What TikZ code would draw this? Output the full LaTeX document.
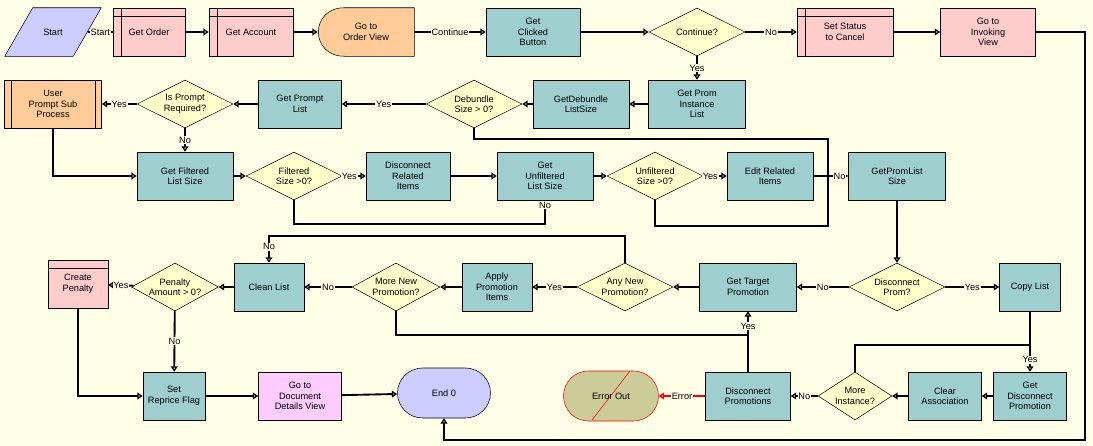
\documentclass[tikz,border=0pt]{standalone}
\usepackage{fontspec}
\setmainfont{Liberation Sans}
\usetikzlibrary{shapes.geometric,shapes.misc,arrows.meta}
\definecolor{bg}{HTML}{FFFFE8}
\definecolor{teal}{HTML}{9ECECE}
\definecolor{pk}{HTML}{FFCCCC}
\definecolor{yl}{HTML}{FFFFCC}
\definecolor{org}{HTML}{FFCC99}
\definecolor{lav}{HTML}{CCCCFF}
\definecolor{mag}{HTML}{FFCCFF}
\definecolor{err}{HTML}{CCCC99}
\begin{document}
\begin{tikzpicture}[x=0.75pt,y=-0.75pt,
  font=\fontsize{6.9}{7.9}\selectfont,
  every node/.style={align=center,inner sep=0pt},
  bx/.style 2 args={rectangle,draw,minimum width=#1*0.75pt,minimum height=#2*0.75pt},
  tb/.style={bx={#1}{48},fill=teal},
  sub/.style={bx={#1}{48},fill=pk,path picture={
     \draw ([xshift=6pt]path picture bounding box.north west)--([xshift=6pt]path picture bounding box.south west);
     \draw ([yshift=-6pt]path picture bounding box.north west)--([yshift=-6pt]path picture bounding box.north east);}},
  dm/.style={diamond,draw,fill=yl,aspect=2,minimum width=96*0.75pt,minimum height=48*0.75pt},
  ar/.style={draw,line width=1.4pt,-{Triangle[open,length=4pt,width=5pt,line width=1pt]}},
  ln/.style={draw,line width=1.4pt},
  lb/.style={fill=bg,inner sep=0.6pt,pos=0.5}]
\fill[bg] (0,0) rectangle (1093,446);
% row 1
\node[bx={96}{48},draw=none] (start) at (53,32) {};
\fill[lav,draw=black] (start.south west)--([xshift=21pt]start.north west)--(start.north east)--([xshift=-21pt]start.south east)--cycle;
\node at (53,32) {Start};
\node[sub=72] (go) at (149,32) {Get Order};
\node[sub=84] (ga) at (251,32) {Get Account};
\node[bx={96}{48},draw=none] (ov) at (366,32) {};
\fill[org,draw=black] ([xshift=20pt]ov.north west)--(ov.north east)--(ov.south east)--([xshift=20pt]ov.south west) .. controls ([xshift=-6pt]ov.south west) and ([xshift=-6pt]ov.north west) .. cycle;
\node at (366,32) {Go to\\Order View};
\node[tb=94] (gcb) at (533,32) {Get\\Clicked\\Button};
\node[dm] (cont) at (697,32) {Continue?};
\node[sub=96] (ss) at (845,32) {Set Status\\to Cancel};
\node[bx={95}{48},fill=pk] (giv) at (988,32) {Go to\\Invoking\\View};
% row 2
\node[bx={97}{48},fill=org,path picture={
  \draw ([xshift=5pt]path picture bounding box.north west)--([xshift=5pt]path picture bounding box.south west);
  \draw ([xshift=-5pt]path picture bounding box.north east)--([xshift=-5pt]path picture bounding box.south east);}] (up) at (53,104) {User\\Prompt Sub\\Process};
\node[dm] (ipr) at (185,104) {Is Prompt\\Required?};
\node[tb=83] (gpl) at (300,104) {Get Prompt\\List};
\node[dm] (deb) at (474,104) {Debundle\\Size > 0?};
\node[tb=96] (gdl) at (581,104) {GetDebundle\\ListSize};
\node[tb=97] (gpi) at (697,104) {Get Prom\\Instance\\List};
% row 3
\node[tb=96] (gfl) at (185,176) {Get Filtered\\List Size};
\node[dm] (fs) at (294,176) {Filtered\\Size >0?};
\node[tb=84] (dri) at (408,176) {Disconnect\\Related\\Items};
\node[tb=96] (gul) at (545,176) {Get\\Unfiltered\\List Size};
\node[dm] (us) at (655,176) {Unfiltered\\Size >0?};
\node[tb=86] (eri) at (770,176) {Edit Related\\Items};
\node[tb=97] (gps) at (897,176) {GetPromList\\Size};
% row 4
\node[bx={60}{48},fill=pk,path picture={
  \draw ([yshift=-6pt]path picture bounding box.north west)--([yshift=-6pt]path picture bounding box.north east);}] (cp) at (78,284) {Create\\Penalty};
\node[dm,minimum width=76*0.75pt] (pen) at (175,287) {Penalty\\Amount > 0?};
\node[tb=70] (cl) at (269,287) {Clean List};
\node[dm,minimum width=88*0.75pt] (mnp) at (396,287) {More New\\Promotion?};
\node[tb=70] (api) at (497,287) {Apply\\Promotion\\Items};
\node[dm] (anp) at (625,287) {Any New\\Promotion?};
\node[tb=97] (gtp) at (748,287) {Get Target\\Promotion};
\node[dm] (dp) at (897,287) {Disconnect\\Prom?};
\node[tb=61] (cpl) at (1030,287) {Copy List};
% row 5
\node[tb=62] (srf) at (174,396) {Set\\Reprice Flag};
\node[bx={83}{48},fill=mag] (gdd) at (300,396) {Go to\\Document\\Details View};
\node[rounded rectangle,draw,fill=lav,minimum width=93*0.75pt,minimum height=50*0.75pt] (end) at (444,393) {End 0};
\node[rounded rectangle,draw=red,fill=err,minimum width=95*0.75pt,minimum height=50*0.75pt] (eo) at (611,396) {};
\draw[red] (592,420)--(630,371);
\node at (611,396) {Error Out};
\node[tb=85] (dpr) at (748,396) {Disconnect\\Promotions};
\node[dm,minimum width=71*0.75pt,minimum height=48*0.75pt] (mi) at (855,396) {More\\Instance?};
\node[tb=73] (ca) at (945,396) {Clear\\Association};
\node[tb=73] (gdp) at (1030,396) {Get\\Disconnect\\Promotion};
% connectors
\draw[ln] ([xshift=-10pt]start.east)--(go.west) node[lb,pos=0.5]{Start};
\draw[ar] (go)--(ga);
\draw[ar] (ga)--(ov);
\draw[ar] (ov)--(gcb) node[lb]{Continue};
\draw[ar] (gcb)--(cont);
\draw[ar] (cont)--(ss) node[lb]{No};
\draw[ar] (ss)--(giv);
\draw[ar] (cont)--(gpi) node[lb]{Yes};
\draw[ar] (gpi)--(gdl);
\draw[ar] (gdl)--(deb);
\draw[ar] (deb)--(gpl) node[lb]{Yes};
\draw[ar] (gpl)--(ipr);
\draw[ar] (ipr)--(up) node[lb]{Yes};
\draw[ar] (ipr)--(gfl) node[lb]{No};
\draw[ar] (up.south)|-(gfl.west);
\draw[ar] (gfl)--(fs);
\draw[ar] (fs)--(dri) node[lb,pos=0.3]{Yes};
\draw[ar] (dri)--(gul);
\draw[ar] (fs.south)--(294,224)-|(gul.south) node[lb,pos=0.9]{No};
\draw[ar] (gul)--(us);
\draw[ar] (us)--(eri) node[lb,pos=0.3]{Yes};
\draw[ar] (eri)--(gps) node[lb,pos=0.75]{No};
\draw[ln] (deb.south)--(474,139)-|(828,226)-|(us.south);
\draw[ar] (gps)--(dp);
\draw[ar] (dp)--(gtp) node[lb]{No};
\draw[ar] (dp)--(cpl) node[lb]{Yes};
\draw[ar] (cpl)--(gdp) node[lb,pos=0.8]{Yes};
\draw[ln] (mi.north)|-(1030,345);
\draw[ar] (gdp)--(ca);
\draw[ar] (ca)--(mi);
\draw[ar] (mi)--(dpr) node[lb]{No};
\draw[ar,red] (dpr)--(eo) node[lb,text=black]{Error};
\draw[ar] (dpr.north)--(gtp.south) node[lb,pos=0.75]{Yes};
\draw[ln] (mnp.south)|-(748,335);
\draw[ar] (gtp)--(anp);
\draw[ar] (anp)--(api) node[lb]{Yes};
\draw[ar] (api)--(mnp);
\draw[ar] (mnp)--(cl) node[lb]{No};
\draw[ar] (anp.north)|-(269,236)--(cl.north) node[lb,pos=0.4]{No};
\draw[ar] (cl)--(pen);
\draw[ar] (pen)--(cp) node[lb]{Yes};
\draw[ar] (pen)--(srf) node[lb]{No};
\draw[ar] (cp.south)|-(srf.west);
\draw[ar] (srf)--(gdd);
\draw[ar] (gdd)--(end);
\draw[ar] (giv.east)-|(1085,440)-|(end.south);
\end{tikzpicture}
\end{document}
